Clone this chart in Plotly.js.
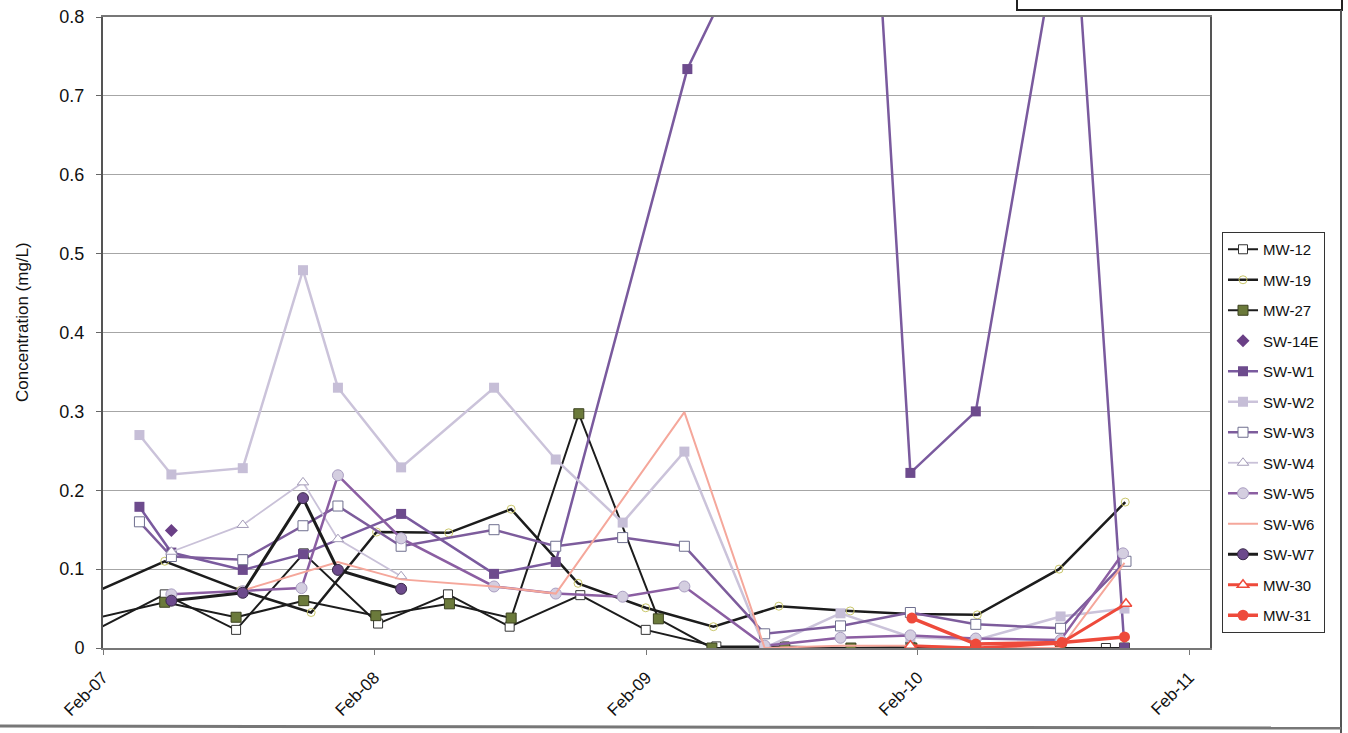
<!DOCTYPE html>
<html>
<head>
<meta charset="utf-8">
<script src="https://cdn.plot.ly/plotly-3.0.1.min.js"></script>
<style>html,body{margin:0;padding:0;background:#fff;}#chart{width:1348px;height:733px;}</style>
</head>
<body>
<div id="chart"></div>
<script>
// ---- data ----
const mw12Dates = ['2007-01-10','2007-04-25','2007-07-30','2007-10-29','2008-02-06','2008-05-10','2008-08-01','2008-11-04','2009-01-31','2009-05-06','2009-08-06','2009-11-03','2010-01-22','2010-04-20','2010-10-12','2010-11-06'];
const mw12Vals  = [0.017,0.068,0.023,0.12,0.031,0.068,0.027,0.067,0.023,0.002,0.002,0.0,0.002,0.0,0.0,0.0];

const mw19Dates = ['2007-01-10','2007-04-25','2007-08-05','2007-11-08','2008-02-04','2008-05-11','2008-08-03','2008-11-01','2009-01-31','2009-05-02','2009-07-29','2009-11-02','2010-01-22','2010-04-22','2010-08-10','2010-11-07'];
const mw19Vals  = [0.066,0.11,0.073,0.045,0.147,0.146,0.176,0.082,0.051,0.027,0.053,0.047,0.043,0.042,0.1,0.185];

const mw27Dates = ['2007-01-10','2007-04-25','2007-07-30','2007-10-29','2008-02-03','2008-05-12','2008-08-03','2008-11-02','2009-02-17','2009-04-30','2009-08-06','2009-11-03','2010-01-24','2010-04-20','2010-08-12','2010-11-06'];
const mw27Vals  = [0.035,0.058,0.039,0.06,0.041,0.056,0.038,0.297,0.037,0.0,0.0,0.0,0.0,0.0,0.0,0.0];

const sw14eDates = ['2007-05-04'];
const sw14eVals  = [0.149];

const sww1Dates = ['2007-03-22','2007-05-04','2007-08-08','2007-10-28','2008-03-08','2008-07-11','2008-10-02','2009-03-28','2009-11-20','2010-01-22','2010-04-20','2010-08-26','2010-11-06'];
const sww1Vals  = [0.179,0.121,0.099,0.119,0.17,0.094,0.109,0.734,1.196,0.222,0.30,1.0,0.0];

const sww2Dates = ['2007-03-22','2007-05-04','2007-08-08','2007-10-28','2007-12-14','2008-03-08','2008-07-11','2008-10-02','2008-12-31','2009-03-24','2009-07-10','2009-10-20','2010-01-22','2010-04-20','2010-08-12','2010-11-06'];
const sww2Vals  = [0.27,0.22,0.228,0.479,0.33,0.229,0.33,0.239,0.159,0.249,0.0,0.044,0.014,0.01,0.04,0.05];

const sww3Dates = ['2007-03-22','2007-05-04','2007-08-08','2007-10-28','2007-12-14','2008-03-08','2008-07-11','2008-10-02','2008-12-31','2009-03-24','2009-07-10','2009-10-20','2010-01-22','2010-04-20','2010-08-12','2010-11-08'];
const sww3Vals  = [0.16,0.116,0.112,0.155,0.18,0.129,0.15,0.129,0.14,0.129,0.018,0.028,0.045,0.03,0.025,0.11];

const sww4Dates = ['2007-05-04','2007-08-08','2007-10-28','2007-12-14','2008-03-08'];
const sww4Vals  = [0.122,0.156,0.21,0.138,0.091];

const sww5Dates = ['2007-05-04','2007-08-08','2007-10-26','2007-12-14','2008-03-08','2008-07-11','2008-10-02','2008-12-31','2009-03-24','2009-07-10','2009-10-20','2010-01-22','2010-04-20','2010-08-12','2010-11-04'];
const sww5Vals  = [0.068,0.072,0.076,0.219,0.139,0.078,0.069,0.065,0.078,0.003,0.013,0.016,0.012,0.01,0.12];

const sww6Dates = ['2007-08-08','2007-12-14','2008-03-08','2008-07-11','2008-10-02','2009-03-24','2009-07-10','2009-10-20','2010-01-22','2010-04-20','2010-08-12','2010-11-06'];
const sww6Vals  = [0.073,0.109,0.087,0.078,0.069,0.299,0.0,0.003,0.003,0.0,0.0,0.108];

const sww7Dates = ['2007-05-04','2007-08-08','2007-10-28','2007-12-14','2008-03-08'];
const sww7Vals  = [0.06,0.07,0.19,0.099,0.075];

const mw30Dates = ['2010-01-22','2010-04-20','2010-08-12','2010-11-08'];
const mw30Vals  = [0.003,0.0,0.006,0.056];

const mw31Dates = ['2010-01-24','2010-04-20','2010-08-14','2010-11-06'];
const mw31Vals  = [0.038,0.005,0.007,0.014];

const xTickDates  = ['2007-02-01','2008-02-01','2009-02-01','2010-02-01','2011-02-01'];
const xTickLabels = ['Feb-07','Feb-08','Feb-09','Feb-10','Feb-11'];
const yTickVals   = [0,0.1,0.2,0.3,0.4,0.5,0.6,0.7,0.8];
const yTickLabels = ['0','0.1','0.2','0.3','0.4','0.5','0.6','0.7','0.8'];

// ---- traces ----
function tr(name, x, y, line, marker, mode){
  return {type:'scatter', mode: mode || 'lines+markers', name:name, legendgroup:name,
          x:x, y:y, line:line, marker:marker, cliponaxis:true};
}
const traces = [
  tr('MW-12', mw12Dates, mw12Vals, {color:'#1c1c1c', width:2}, {symbol:'square', size:9, color:'#ffffff', line:{color:'#333', width:1}}),
  tr('MW-19', mw19Dates, mw19Vals, {color:'#1c1c1c', width:2.5}, {symbol:'circle-open', size:8, color:'#c9c66a', line:{width:1}}),
  tr('MW-27', mw27Dates, mw27Vals, {color:'#1c1c1c', width:2}, {symbol:'square', size:10, color:'#6b7a3b', line:{color:'#3c4220', width:1}}),
  tr('SW-14E', sw14eDates, sw14eVals, {color:'#6a3f86', width:0}, {symbol:'diamond', size:10, color:'#6a3f86'}, 'markers'),
  tr('SW-W1', sww1Dates, sww1Vals, {color:'#7a5a9e', width:2.5}, {symbol:'square', size:10, color:'#6d4b8d'}),
  tr('SW-W2', sww2Dates, sww2Vals, {color:'#cbc3da', width:2.5}, {symbol:'square', size:10, color:'#c6bed7'}),
  tr('SW-W3', sww3Dates, sww3Vals, {color:'#7d5c9c', width:2.5}, {symbol:'square', size:10, color:'#ffffff', line:{color:'#6f6f8f', width:1}}),
  tr('SW-W4', sww4Dates, sww4Vals, {color:'#c9c1d8', width:1.8}, {symbol:'triangle-up', size:10, color:'#ffffff', line:{color:'#a49cb8', width:1}}),
  tr('SW-W5', sww5Dates, sww5Vals, {color:'#8b5ea2', width:2.5}, {symbol:'circle', size:11, color:'#d4cee0', line:{color:'#a99dc1', width:1}}),
  tr('SW-W6', sww6Dates, sww6Vals, {color:'#f5a79b', width:2}, {size:3, color:'#f5a79b'}, 'lines'),
  tr('SW-W7', sww7Dates, sww7Vals, {color:'#1c1c1c', width:3}, {symbol:'circle', size:11, color:'#6c4a8c', line:{color:'#3a2a4a', width:1}}),
  tr('MW-30', mw30Dates, mw30Vals, {color:'#ee4a3b', width:3}, {symbol:'triangle-up', size:10, color:'#ffffff', line:{color:'#ee4a3b', width:1.5}}),
  tr('MW-31', mw31Dates, mw31Vals, {color:'#ee4a3b', width:3.5}, {symbol:'circle', size:11, color:'#ee4a3b'})
];

const L = 103, R = 1210, T = 17, B = 648, W = 1348, H = 733;
const px = v => (v - L) / (R - L);
const py = v => (B - v) / (B - T);

const layout = {
  width: W, height: H,
  margin: {l: L, r: W - R, t: T, b: H - B},
  paper_bgcolor: '#ffffff', plot_bgcolor: '#ffffff',
  font: {family: 'Liberation Sans, Arial, sans-serif', color: '#111', size: 17},
  showlegend: true,
  legend: {x: px(1222), xanchor: 'left', y: py(232), yanchor: 'top',
           bgcolor: '#ffffff', bordercolor: '#333', borderwidth: 1,
           font: {size: 15, family: 'Liberation Sans, Arial, sans-serif', color: '#111'},
           tracegroupgap: 8, traceorder: 'grouped'},
  xaxis: {type: 'date', range: ['2007-02-01', '2011-03-01'],
          tickvals: xTickDates, ticktext: xTickLabels, tickangle: -45,
          ticks: 'outside', ticklen: 5, tickcolor: '#777', ticklabelstandoff: 6,
          showgrid: false, zeroline: false,
          showline: true, linecolor: '#777', linewidth: 2, mirror: true,
          tickfont: {size: 17}},
  yaxis: {range: [0, 0.8], tickvals: yTickVals, ticktext: yTickLabels,
          ticks: 'outside', ticklen: 5, tickcolor: '#666', ticklabelstandoff: 8,
          showgrid: true, gridcolor: '#a6a6a6', gridwidth: 1,
          zeroline: false, showline: true, linecolor: '#555', linewidth: 2, mirror: true,
          tickfont: {size: 18}},
  annotations: [
    {text: 'Concentration (mg/L)', xref: 'paper', yref: 'paper', x: px(22), y: py(322),
     xanchor: 'center', yanchor: 'middle', textangle: -90, showarrow: false,
     font: {size: 17, family: 'Liberation Sans, Arial, sans-serif', color: '#111'}}
  ],
  shapes: [
    {type: 'rect', xref: 'paper', yref: 'paper', x0: px(1017), x1: px(1342), y0: py(10), y1: py(-20),
     line: {color: '#222', width: 2}, fillcolor: 'rgba(0,0,0,0)'},
    {type: 'line', xref: 'paper', yref: 'paper', x0: px(1341), x1: px(1341), y0: py(733), y1: py(10),
     line: {color: '#555', width: 2}},
    {type: 'line', xref: 'paper', yref: 'paper', x0: px(0), x1: px(1341), y0: py(726), y1: py(728),
     line: {color: '#777', width: 3}}
  ]
};

Plotly.newPlot('chart', traces, layout, {staticPlot: true, displayModeBar: false});
</script>
</body>
</html>
